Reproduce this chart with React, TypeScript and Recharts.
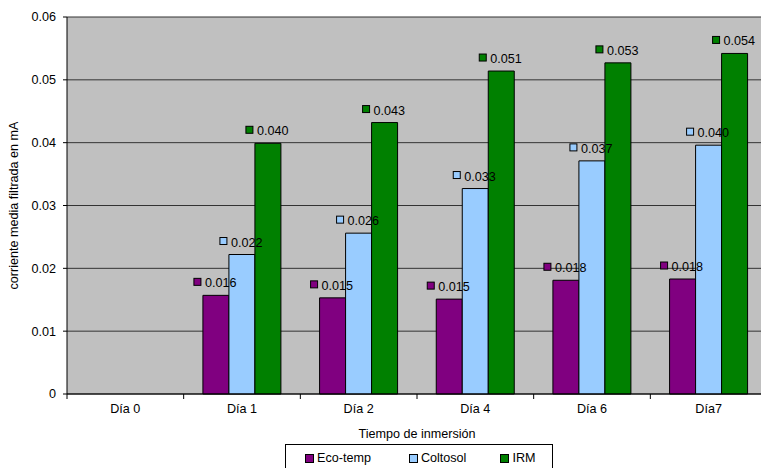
import React from "react";
import {
  BarChart,
  Bar,
  XAxis,
  YAxis,
  CartesianGrid,
  Legend,
  LabelList,
} from "recharts";

const categories = ["Día 0", "Día 1", "Día 2", "Día 4", "Día 6", "Día7"];
const ecoTemp = [0, 0.0157, 0.0153, 0.0151, 0.0181, 0.0183];
const coltosol = [0, 0.0222, 0.0256, 0.0327, 0.0371, 0.0396];
const irm = [0, 0.0399, 0.0432, 0.0514, 0.0527, 0.0542];
const yTicks = [0, 0.01, 0.02, 0.03, 0.04, 0.05, 0.06];

const series = [
  { key: "eco", name: "Eco-temp", color: "#800080" },
  { key: "colt", name: "Coltosol", color: "#99CCFF" },
  { key: "irm", name: "IRM", color: "#008000" },
];

const data = categories.map((c, i) => ({
  name: c,
  eco: ecoTemp[i],
  colt: coltosol[i],
  irm: irm[i],
}));

const font = '"Liberation Sans", Arial, sans-serif';
const fs = 12.6;

// small square + value above each bar, like the old excel labels
function makeLabel(color: string) {
  return (props: any) => {
    const { x, y, width, value } = props;
    if (!value) return null;
    const cx = x + width / 2;
    return (
      <g>
        <rect x={cx - 22} y={y - 17} width={7} height={7} fill={color} stroke="#000" strokeWidth={1} />
        <text x={cx - 11} y={y - 8} fontSize={fs} fill="#000" textAnchor="start">
          {value.toFixed(3)}
        </text>
      </g>
    );
  };
}

function XTick(props: any) {
  const { x, y, payload } = props;
  const bx = x - (payload.offset || 0);
  return (
    <g>
      <line x1={bx} x2={bx} y1={y - 10} y2={y - 5} stroke="#000" />
      <text x={x} y={y} dy="0.71em" textAnchor="middle" fontSize={fs} fill="#000">
        {payload.value}
      </text>
    </g>
  );
}

function LegendBox() {
  return (
    <div
      style={{
        border: "1px solid #000",
        height: 28,
        boxSizing: "border-box",
        display: "flex",
        alignItems: "center",
        paddingLeft: 19,
        fontSize: fs,
        fontFamily: font,
        background: "#fff",
        whiteSpace: "nowrap",
      }}
    >
      {series.map((s, i) => (
        <div key={s.key} style={{ display: "flex", alignItems: "center", marginRight: i === 0 ? 38 : 34 }}>
          <span
            style={{
              display: "inline-block",
              width: 7,
              height: 7,
              background: s.color,
              border: "1px solid #000",
              marginRight: 3,
            }}
          />
          <span>{s.name}</span>
        </div>
      ))}
    </div>
  );
}

export default function App() {
  return (
    <div
      style={{
        position: "absolute",
        left: 0,
        top: 0,
        width: 761,
        height: 468,
        overflow: "hidden",
        background: "#fff",
        fontFamily: font,
      }}
    >
      <BarChart
        width={775}
        height={472}
        data={data}
        margin={{ top: 17, right: 8, left: 0, bottom: 0 }}
        barCategoryGap="16.5%"
        barGap={0}
      >
        <CartesianGrid vertical={false} fill="#C0C0C0" stroke="#333" fillOpacity={1} />
        <XAxis
          dataKey="name"
          height={50}
          tickLine={false}
          tickSize={5}
          tickMargin={5}
          axisLine={{ stroke: "#000" }}
          tick={<XTick />}
          interval={0}
          label={{ value: "Tiempo de inmersión", position: "insideBottom", offset: 6, fontSize: fs, fill: "#000" }}
        />
        <YAxis
          width={67}
          domain={[0, 0.06]}
          ticks={yTicks}
          interval={0}
          tickSize={4}
          tickMargin={7}
          tickFormatter={(v: number) => (v === 0 ? "0" : v.toFixed(2))}
          tick={{ fontSize: fs, fill: "#000" }}
          axisLine={{ stroke: "#000" }}
          tickLine={{ stroke: "#000" }}
          label={(p: any) => {
            const vb = p.viewBox || { x: 0, y: 17, width: 67, height: 377 };
            const cx = vb.x + 18;
            const cy = vb.y + vb.height / 2;
            return (
              <text x={cx} y={cy} transform={`rotate(-90 ${cx} ${cy})`} textAnchor="middle" fontSize={fs} fill="#000">
                corriente media filtrada en mA
              </text>
            );
          }}
        />
        <Legend verticalAlign="bottom" content={<LegendBox />} wrapperStyle={{ left: 285, width: 268 }} />
        {series.map((s) => (
          <Bar
            key={s.key}
            dataKey={s.key}
            name={s.name}
            fill={s.color}
            stroke="#000"
            strokeWidth={1}
            isAnimationActive={false}
          >
            <LabelList dataKey={s.key} content={makeLabel(s.color)} />
          </Bar>
        ))}
      </BarChart>
    </div>
  );
}
